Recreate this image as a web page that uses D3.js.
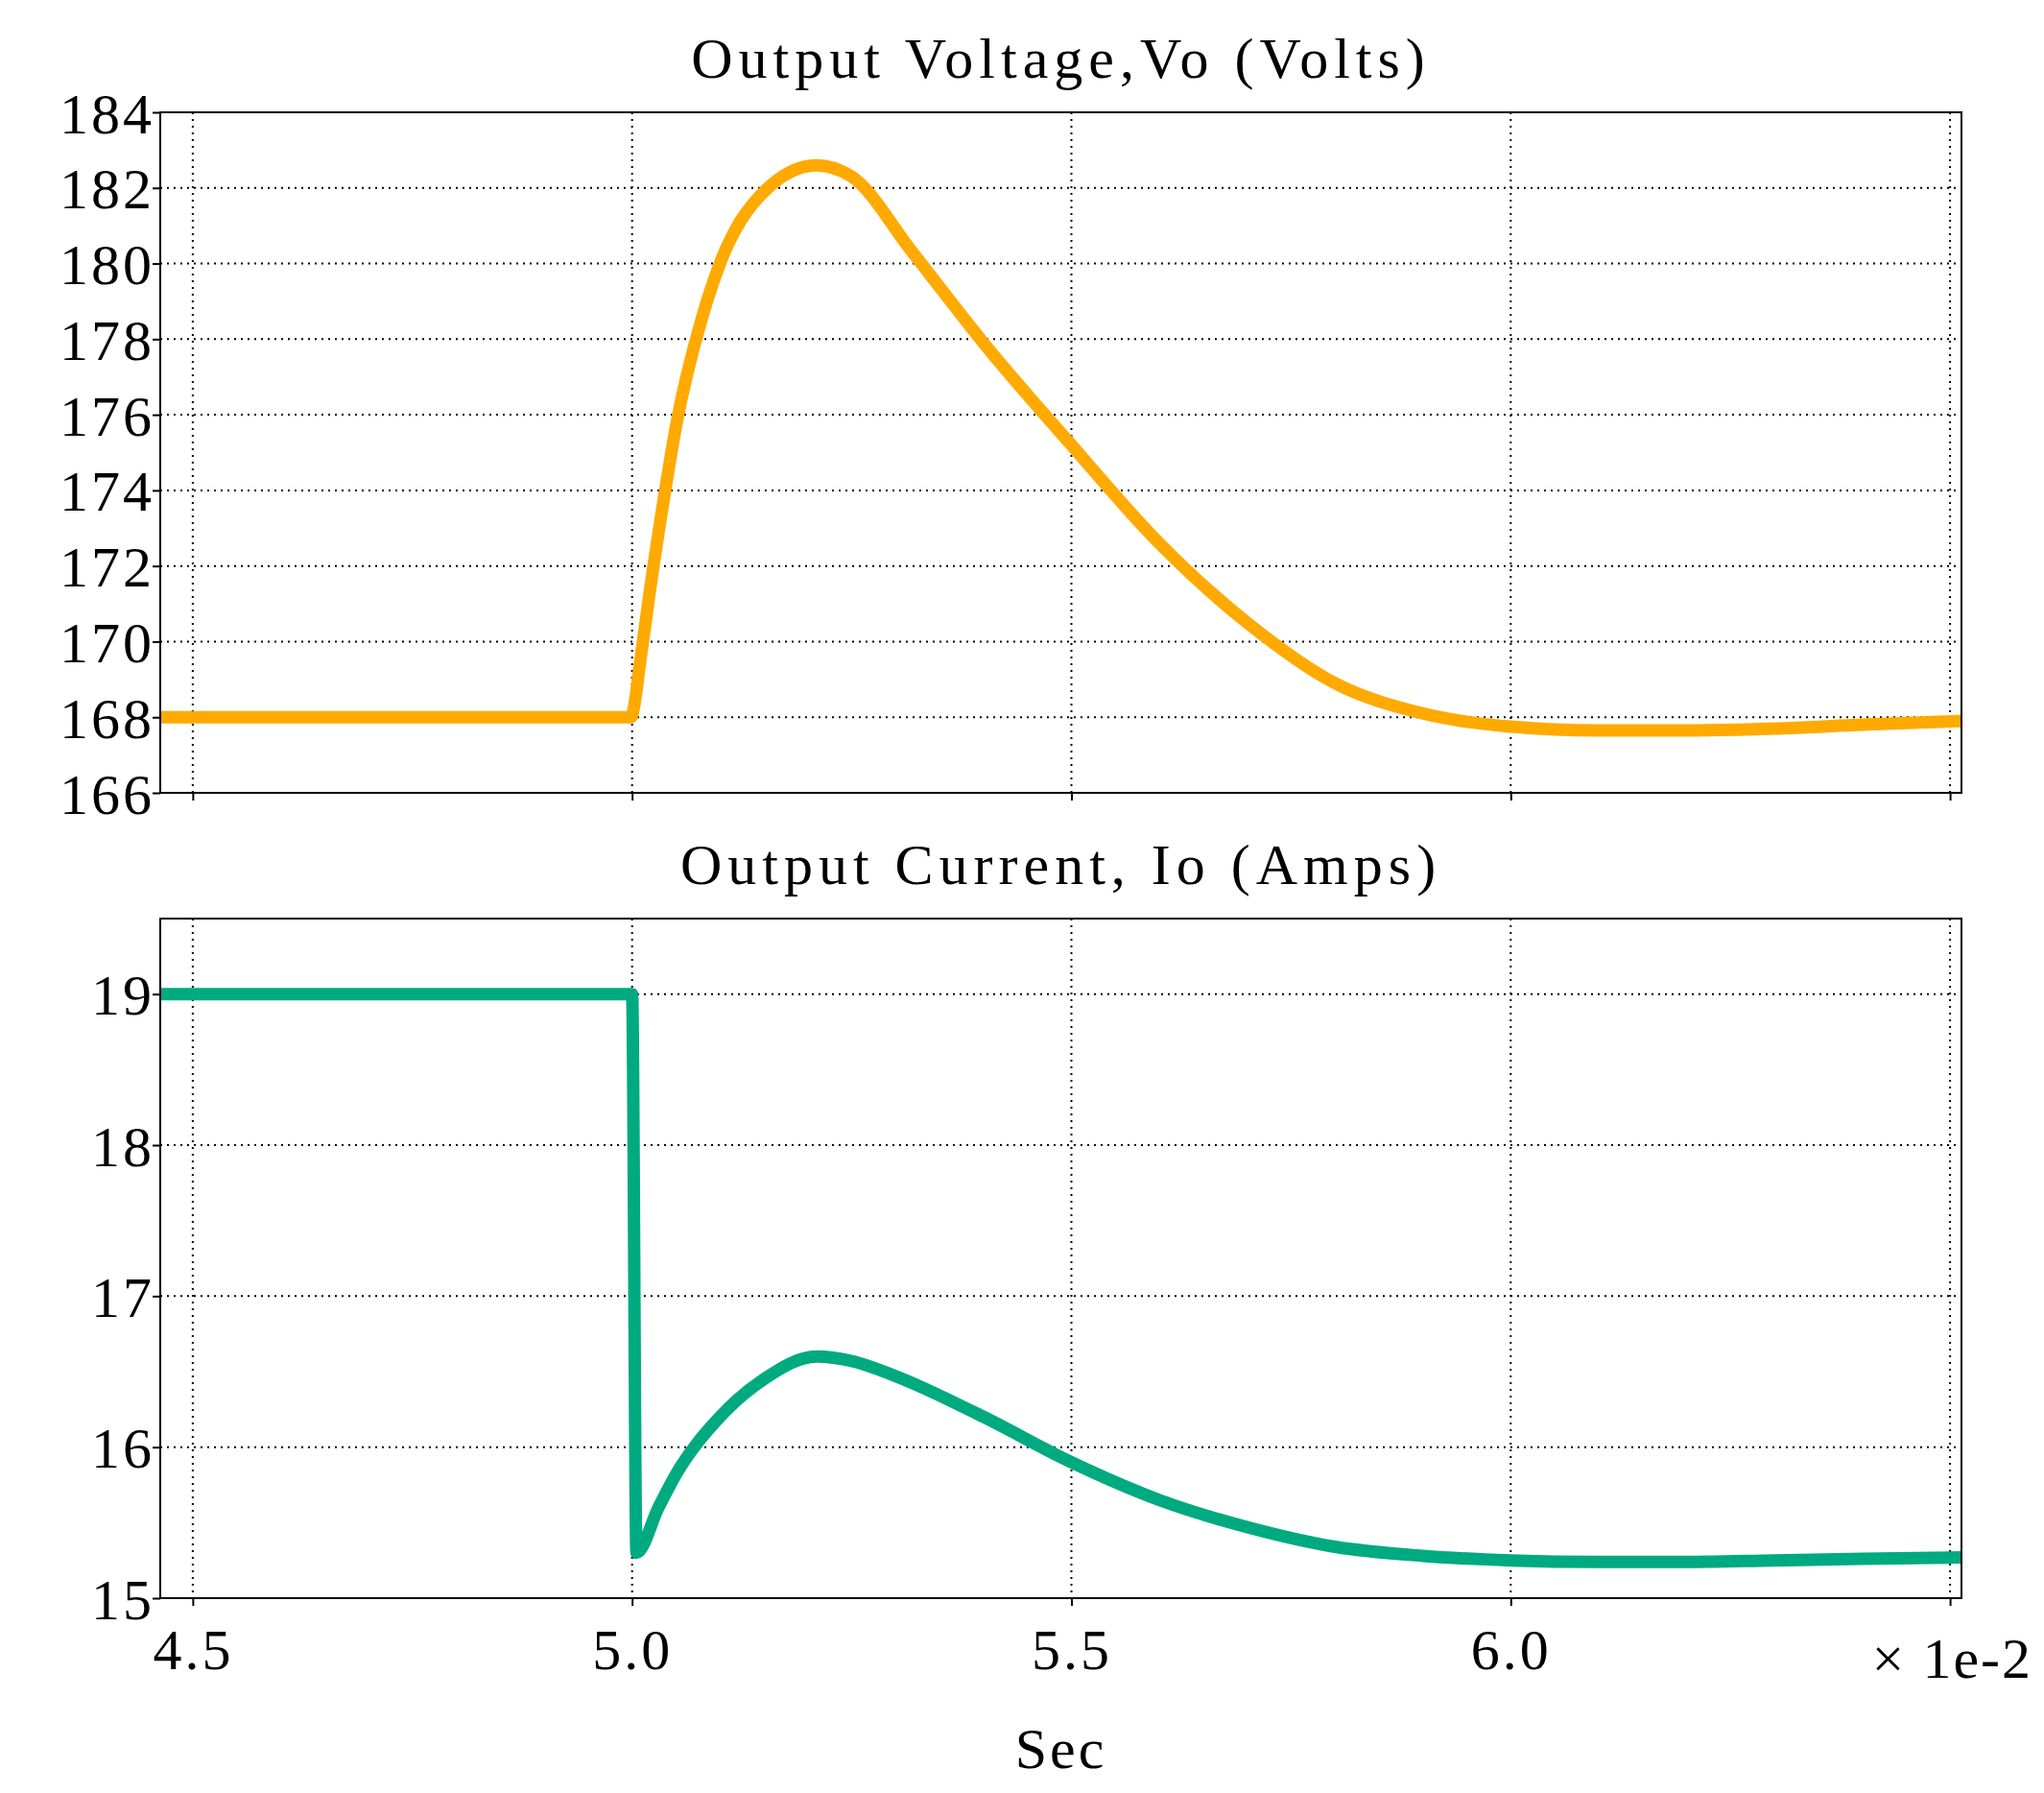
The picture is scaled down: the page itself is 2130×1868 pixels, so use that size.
<!DOCTYPE html>
<html><head><meta charset="utf-8">
<script src="https://cdn.jsdelivr.net/npm/d3@7"></script>
<style>body{margin:0;background:#fff}svg text{font-family:"Liberation Serif","DejaVu Serif",serif}</style>
</head><body><svg id="c" width="2130" height="1868"></svg>
<script>
const timeV=[4.463,4.6,4.8,4.999,5.0,5.01,5.02,5.037,5.05,5.08,5.1,5.15,5.21,5.25,5.319,5.4,5.5,5.6,5.7,5.8,5.9,6.0,6.1,6.2,6.3,6.4,6.513];
const voltage=[168,168,168,168,168.05,169.6,171.3,173.9,175.7,178.6,180.0,181.9,182.6,182.3,180.3,177.9,175.2,172.6,170.5,168.9,168.1,167.75,167.65,167.65,167.7,167.8,167.9];
const timeI=[4.463,4.6,4.8,4.999,5.0,5.005,5.03,5.05,5.1,5.15,5.21,5.25,5.3,5.4,5.5,5.6,5.7,5.8,5.9,6.0,6.1,6.2,6.3,6.4,6.513];
const current=[19,19,19,19,19,15.3,15.6,15.82,16.2,16.45,16.6,16.57,16.47,16.2,15.9,15.65,15.47,15.34,15.28,15.25,15.24,15.24,15.25,15.26,15.27];
const xTicks=[4.5,5.0,5.5,6.0,6.5];
const xLabels=["4.5","5.0","5.5","6.0",""];
const vTicks=[166,168,170,172,174,176,178,180,182,184];
const iTicks=[15,16,17,18,19];

const svg=d3.select("#c");
const L=167,R=2044;
const F="'Liberation Serif','DejaVu Serif',serif";
const x=d3.scaleLinear().domain([4.463,6.513]).range([L,R]);
function panel(top,bot,ydom,ticks,tx,ty,color,title,showX){
  const y=d3.scaleLinear().domain(ydom).range([bot,top]);
  const g=svg.append("g");
  g.selectAll(".gx").data(xTicks).join("line").attr("x1",d=>x(d)).attr("x2",d=>x(d)).attr("y1",top).attr("y2",bot)
   .attr("stroke","#000").attr("stroke-width",2).attr("stroke-dasharray","2,5");
  g.selectAll(".gy").data(ticks).join("line").attr("x1",L).attr("x2",R).attr("y1",d=>y(d)).attr("y2",d=>y(d))
   .attr("stroke","#000").attr("stroke-width",2).attr("stroke-dasharray","2,5");
  const line=d3.line().x((d,i)=>x(tx[i])).y(d=>y(d)).curve(d3.curveMonotoneX);
  g.append("path").datum(ty).attr("d",line).attr("fill","none").attr("stroke",color).attr("stroke-width",13).attr("stroke-linejoin","round");
  g.append("rect").attr("x",L).attr("y",top).attr("width",R-L).attr("height",bot-top).attr("fill","none").attr("stroke","#000").attr("stroke-width",2);
  const ya=g.append("g").attr("transform",`translate(${L},0)`).attr("font-family",F).call(d3.axisLeft(y).tickValues(ticks).tickSize(8).tickSizeOuter(0).tickFormat(d3.format("d")));
  ya.attr("font-family",F);
  ya.select(".domain").remove();
  ya.selectAll("text").attr("font-size",60).attr("letter-spacing",3).attr("fill","#000").attr("dy","0.35em").attr("x",-6);
  ya.selectAll("line").attr("stroke-width",2);
  const xa=g.append("g").attr("transform",`translate(0,${bot})`).call(d3.axisBottom(x).tickValues(xTicks).tickSize(8).tickSizeOuter(0).tickFormat((d,i)=>showX?xLabels[i]:""));
  xa.attr("font-family",F);
  xa.select(".domain").remove();
  xa.selectAll("line").attr("stroke-width",2);
  xa.selectAll("text").attr("font-size",60).attr("letter-spacing",3).attr("fill","#000").attr("dy","1.05em");
  svg.append("text").attr("x",(L+R)/2).attr("y",top-36).attr("text-anchor","middle").attr("font-size",60).attr("letter-spacing",6).text(title);
}
panel(117,826,[166,184],vTicks,timeV,voltage,"#FFAA00","Output Voltage,Vo (Volts)",false);
panel(957,1665,[15,19.5],iTicks,timeI,current,"#00AA80","Output Current, Io (Amps)",true);
svg.append("text").attr("x",2118).attr("y",1748).attr("text-anchor","end").attr("font-size",60).attr("letter-spacing",2).text("× 1e-2");
svg.append("text").attr("x",(L+R)/2).attr("y",1842).attr("text-anchor","middle").attr("font-size",60).attr("letter-spacing",3).text("Sec");
</script></body></html>
